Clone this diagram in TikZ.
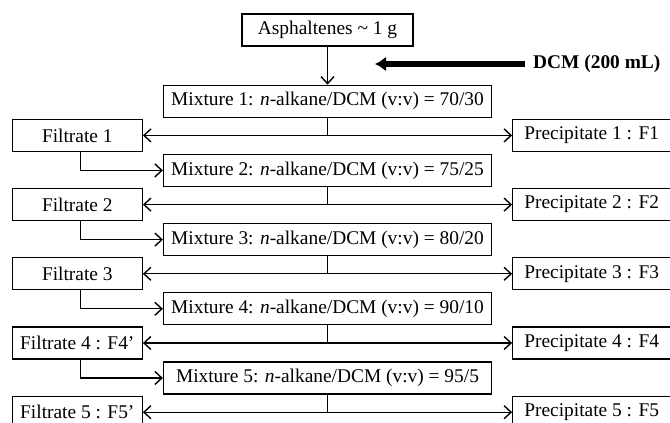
\documentclass[tikz,border=0pt]{standalone}
\usepackage{fontspec}
\setmainfont{Liberation Serif}
\usepackage{tikz}
\usetikzlibrary{positioning,arrows.meta}

\begin{document}
\begin{tikzpicture}[
    x=1pt, y=1pt,
    font=\fontsize{19.4}{23}\selectfont,
    box/.style={
        draw,
        line width=1.2pt,
        inner sep=0pt,
        align=center,
        minimum height=32pt
    },
    mixbox/.style={box, minimum width=328pt},
    filtbox/.style={box, minimum width=130pt},
    precbox/.style={box, minimum width=158pt},
    arrow/.style={-{Straight Barb[length=7pt,width=13pt,line width=1.4pt]}, line width=1.2pt},
    fat/.style={-{Latex[length=11pt,width=15pt]}, line width=5.5pt}
]
\useasboundingbox (0,0) rectangle (670,-423);

\node[box, minimum width=171pt] (asph) at (327.5,-30) {Asphaltenes \textasciitilde{} 1 g};
\node[font=\fontsize{19.4}{23}\selectfont\bfseries, inner sep=0pt, anchor=west] (dcm) at (533,-64) {DCM (200 mL)};
\coordinate (inlet) at (375,-64);

\node[mixbox, below=38pt of asph] (mix1) {Mixture 1: \textit{n}-alkane/DCM (v:v) = 70/30};
\node[filtbox, below left=1pt and 20pt of mix1] (filt1) {Filtrate 1};
\node[precbox, below right=1pt and 20pt of mix1] (prec1) {Precipitate 1 : F1};

\node[mixbox, below=36pt of mix1] (mix2) {Mixture 2: \textit{n}-alkane/DCM (v:v) = 75/25};
\node[filtbox, below left=1pt and 20pt of mix2] (filt2) {Filtrate 2};
\node[precbox, below right=1pt and 20pt of mix2] (prec2) {Precipitate 2 : F2};

\node[mixbox, below=36pt of mix2] (mix3) {Mixture 3: \textit{n}-alkane/DCM (v:v) = 80/20};
\node[filtbox, below left=1pt and 20pt of mix3] (filt3) {Filtrate 3};
\node[precbox, below right=1pt and 20pt of mix3] (prec3) {Precipitate 3 : F3};

\node[mixbox, below=36pt of mix3] (mix4) {Mixture 4: \textit{n}-alkane/DCM (v:v) = 90/10};
\node[filtbox, below left=1pt and 20pt of mix4] (filt4) {Filtrate 4 : F4'};
\node[precbox, below right=1pt and 20pt of mix4] (prec4) {Precipitate 4 : F4};

\node[mixbox, below=36pt of mix4] (mix5) {Mixture 5: \textit{n}-alkane/DCM (v:v) = 95/5};
\node[filtbox, below left=1pt and 20pt of mix5] (filt5) {Filtrate 5 : F5'};
\node[precbox, below right=1pt and 20pt of mix5] (prec5) {Precipitate 5 : F5};

% split points under each mixture
\coordinate (split1) at (mix1.south |- filt1.east);
\coordinate (split2) at (mix2.south |- filt2.east);
\coordinate (split3) at (mix3.south |- filt3.east);
\coordinate (split4) at (mix4.south |- filt4.east);
\coordinate (split5) at (mix5.south |- filt5.east);

\draw[arrow] (asph) -- (mix1);
\draw[fat, shorten <=8pt] (dcm) -- (inlet);

\draw[line width=1.2pt] (mix1) -- (split1);
\draw[arrow] (split1) -- (filt1);
\draw[arrow] (split1) -- (prec1);
\draw[arrow] ([xshift=3pt]filt1.south) |- (mix2);

\draw[line width=1.2pt] (mix2) -- (split2);
\draw[arrow] (split2) -- (filt2);
\draw[arrow] (split2) -- (prec2);
\draw[arrow] ([xshift=3pt]filt2.south) |- (mix3);

\draw[line width=1.2pt] (mix3) -- (split3);
\draw[arrow] (split3) -- (filt3);
\draw[arrow] (split3) -- (prec3);
\draw[arrow] ([xshift=3pt]filt3.south) |- (mix4);

\draw[line width=1.2pt] (mix4) -- (split4);
\draw[arrow] (split4) -- (filt4);
\draw[arrow] (split4) -- (prec4);
\draw[arrow] ([xshift=3pt]filt4.south) |- (mix5);

\draw[line width=1.2pt] (mix5) -- (split5);
\draw[arrow] (split5) -- (filt5);
\draw[arrow] (split5) -- (prec5);

\end{tikzpicture}
\end{document}
